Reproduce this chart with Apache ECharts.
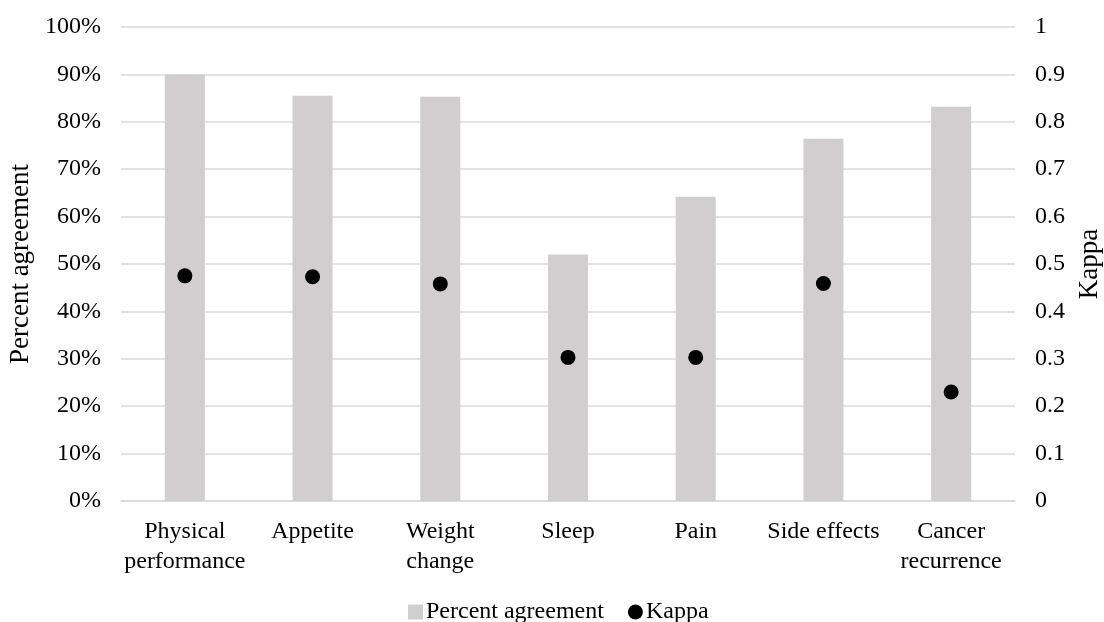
<!DOCTYPE html>
<html>
<head>
<meta charset="utf-8">
<script src="https://cdn.jsdelivr.net/npm/echarts@6/dist/echarts.min.js"></script>
<style>html,body{margin:0;padding:0;background:#fff;}#c{width:1104px;height:622px;}</style>
</head>
<body>
<div id="c"></div>
<script>
const categories = ['Physical\nperformance', 'Appetite', 'Weight\nchange', 'Sleep', 'Pain', 'Side effects', 'Cancer\nrecurrence'];
const percentAgreement = [90, 85.5, 85.3, 52, 64.2, 76.4, 83.2];
const kappa = [0.475, 0.473, 0.458, 0.303, 0.303, 0.459, 0.230];
const leftTicks = { min: 0, max: 100, interval: 10 };
const rightTicks = { min: 0, max: 1, interval: 0.1 };

const FONT = 'Liberation Serif';
const chart = echarts.init(document.getElementById('c'), null, { renderer: 'canvas' });
chart.setOption({
  animation: false,
  backgroundColor: '#fff',
  textStyle: { fontFamily: FONT, color: '#000' },
  grid: { left: 121, right: 89, top: 27, bottom: 121, containLabel: false, outerBoundsMode: 'none' },
  legend: {
    top: 595, left: 403,
    itemWidth: 15, itemHeight: 15, itemGap: 24,
    textStyle: { fontFamily: FONT, fontSize: 24, color: '#000', padding: [0, 0, 0, -2] },
    data: [
      { name: 'Percent agreement', icon: 'rect' },
      { name: 'Kappa', icon: 'circle' }
    ]
  },
  xAxis: {
    type: 'category',
    data: categories,
    axisTick: { show: false },
    axisLine: { lineStyle: { color: '#d9d9d9', width: 1.5 } },
    axisLabel: { interval: 0, fontFamily: FONT, fontSize: 24, color: '#000', lineHeight: 30, margin: 16 }
  },
  yAxis: [
    {
      type: 'value', min: leftTicks.min, max: leftTicks.max, interval: leftTicks.interval,
      name: 'Percent agreement', nameLocation: 'middle', nameGap: 81, nameRotate: 90,
      nameTextStyle: { fontFamily: FONT, fontSize: 27, color: '#000' },
      axisLabel: { formatter: '{value}%', fontFamily: FONT, fontSize: 24, color: '#000', margin: 20 },
      splitLine: { lineStyle: { color: '#d9d9d9', width: 1.5 } },
      axisLine: { show: false }, axisTick: { show: false }
    },
    {
      type: 'value', min: rightTicks.min, max: rightTicks.max, interval: rightTicks.interval,
      name: 'Kappa', nameLocation: 'middle', nameGap: 61, nameRotate: 90,
      nameTextStyle: { fontFamily: FONT, fontSize: 27, color: '#000' },
      axisLabel: { formatter: v => String(Math.round(v * 10) / 10), fontFamily: FONT, fontSize: 24, color: '#000', margin: 20 },
      splitLine: { show: false },
      axisLine: { show: false }, axisTick: { show: false }
    }
  ],
  series: [
    {
      name: 'Percent agreement', type: 'bar', yAxisIndex: 0,
      data: percentAgreement, barWidth: 40,
      itemStyle: { color: '#d0cecf' }
    },
    {
      name: 'Kappa', type: 'scatter', yAxisIndex: 1,
      data: kappa, symbol: 'circle', symbolSize: 15,
      itemStyle: { color: '#000', opacity: 1 }
    }
  ]
});
</script>
</body>
</html>
